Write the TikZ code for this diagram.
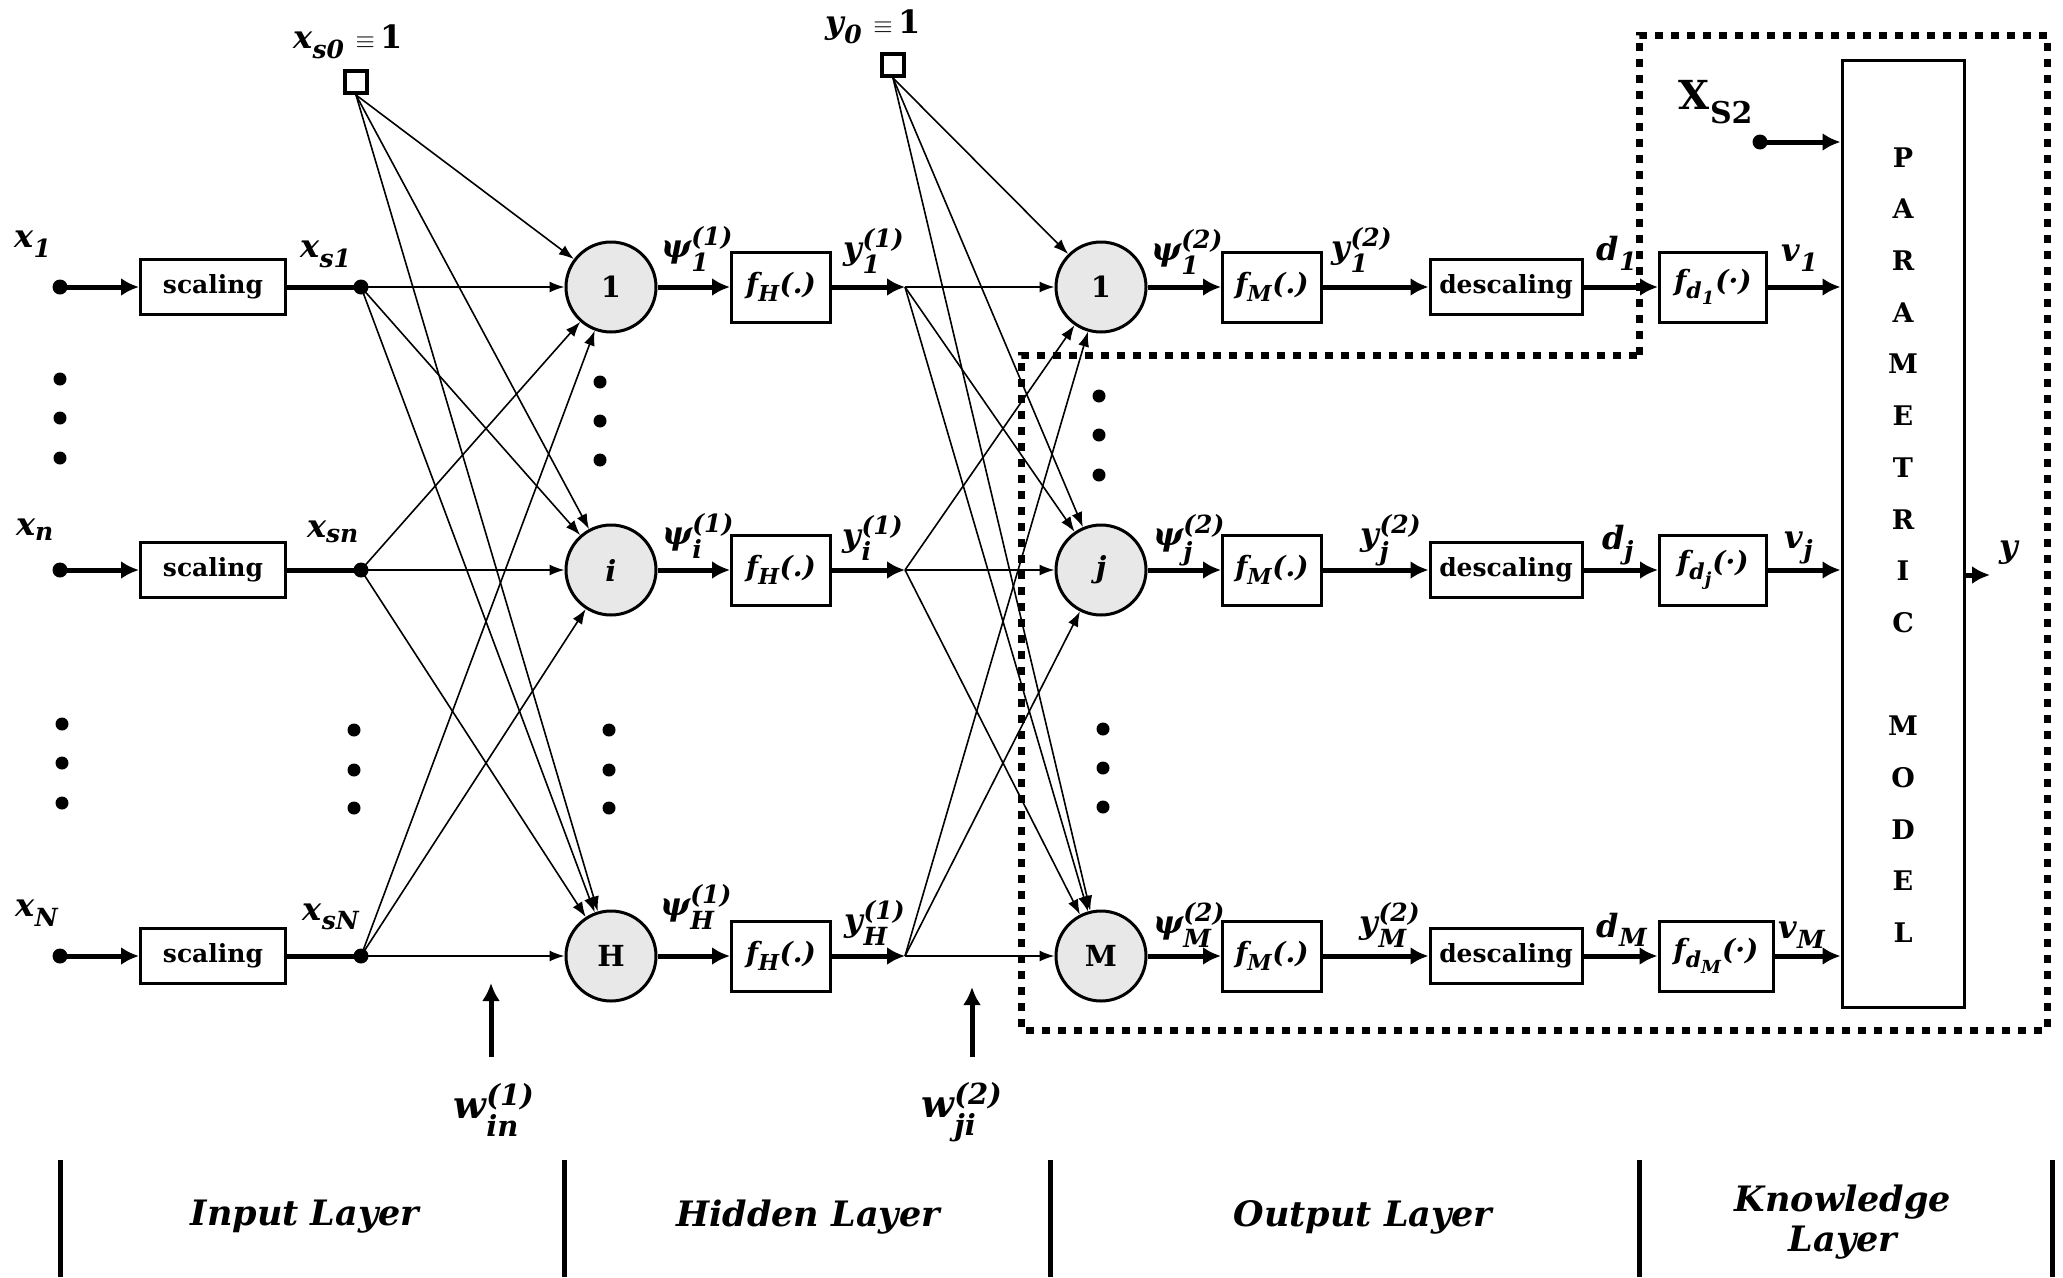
\documentclass[tikz,border=0pt]{standalone}
\usepackage{amsmath}
\usepackage{fontspec}
\setmainfont{DejaVu Serif}
\usetikzlibrary{arrows.meta}
\DeclareMathSizes{32}{32}{25}{20}
\DeclareMathSizes{28}{28}{22}{18}
\DeclareMathSizes{38}{38}{29}{23}
\DeclareMathSizes{40}{40}{30}{24}
\newcommand{\Sb}[1]{$_{\text{#1}}$}
\newcommand{\SbSp}[2]{$_{\text{#1}}^{\text{#2}}$}
\tikzset{
 neuron/.style={circle, draw, line width=3pt, fill=black!9, minimum size=90pt, inner sep=0pt, font=\bfseries\fontsize{29}{32}\selectfont},
 blk/.style={rectangle, draw, line width=3pt, fill=white, inner sep=0pt, font=\bfseries\fontsize{25}{28}\selectfont},
 fblk/.style={rectangle, draw, line width=3pt, fill=white, inner sep=0pt, font=\bfseries\itshape\fontsize{28}{30}\selectfont},
 sqnode/.style={rectangle, draw, line width=4pt, minimum size=22pt, inner sep=0pt},
 dotnode/.style={circle, fill, inner sep=0pt, minimum size=15pt},
 edot/.style={circle, fill, inner sep=0pt, minimum size=13pt},
 sig/.style={line width=5pt, -{Latex[length=18pt,width=18pt]}},
 wire/.style={line width=1.6pt, -{Latex[length=15pt,width=11pt]}},
 lbl/.style={font=\bfseries\itshape\fontsize{32}{34}\selectfont, inner sep=0pt},
 biglbl/.style={font=\bfseries\itshape\fontsize{38}{40}\selectfont, inner sep=0pt},
 layer/.style={font=\bfseries\itshape\fontsize{35}{40}\selectfont, inner sep=0pt, align=center},
 sep/.style={line width=5pt},
 region/.style={line width=7pt, dash pattern=on 8pt off 8pt},
}
\begin{document}
\begin{tikzpicture}[x=1pt,y=-1pt]
\useasboundingbox (0,0) rectangle (2063,1277);

% ---------- input layer ----------
\foreach \r/\y in {1/287, n/570, N/956}{
  \node[dotnode] (x\r dot) at (60,\y) {};
  \node[blk, minimum width=145pt, minimum height=55pt] (sc\r) at (213,\y) {scaling};
  \node[dotnode] (xs\r) at (361,\y) {};
}
\node[lbl] (lx1) at (33,244) {x\Sb{1}};
\node[lbl] (lxn) at (35,530) {x\Sb{n}};
\node[lbl] (lxN) at (37,913) {x\Sb{N}};
\node[lbl] (lxs1) at (326,254) {x\Sb{s1}};
\node[lbl] (lxsn) at (333,532) {x\Sb{sn}};
\node[lbl] (lxsN) at (331,917) {x\Sb{sN}};

\node[sqnode] (s0sq) at (356,82) {};
\node[lbl] (ls0) at (348,42) {x\Sb{s0} $\equiv$\,{\upshape 1}};

% ---------- hidden layer ----------
\node[neuron] (h1) at (611,287) {1};
\node[neuron] (hi) at (611,570) {\itshape i};
\node[neuron] (hH) at (611,956) {H};
\foreach \r/\y in {1/287, i/570, H/956}{
  \node[fblk, minimum width=99pt, minimum height=70pt] (fh\r) at (781,\y) {f\Sb{H}(.)};
  \coordinate (fan\r) at (905,\y);
}
\node[lbl] (lpsi1) at (697,249) {ψ\SbSp{1}{(1)}};
\node[lbl] (lpsii) at (698,536) {ψ\SbSp{i}{(1)}};
\node[lbl] (lpsiH) at (696,907) {ψ\SbSp{H}{(1)}};
\node[lbl] (ly1) at (874,251) {y\SbSp{1}{(1)}};
\node[lbl] (lyi) at (873,538) {y\SbSp{i}{(1)}};
\node[lbl] (lyH) at (875,923) {y\SbSp{H}{(1)}};

\node[sqnode] (y0sq) at (893,65) {};
\node[lbl] (ly0) at (873,27) {y\Sb{0} $\equiv$\,{\upshape 1}};

% ---------- output layer ----------
\node[neuron] (o1) at (1101,287) {1};
\node[neuron] (oj) at (1101,570) {\itshape j};
\node[neuron] (oM) at (1101,956) {M};
\foreach \r/\y in {1/287, j/570, M/956}{
  \node[fblk, minimum width=99pt, minimum height=70pt] (fm\r) at (1272,\y) {f\Sb{M}(.)};
  \node[blk, minimum width=152pt, minimum height=55pt] (ds\r) at (1506,\y) {descaling};
}
\node[fblk, minimum width=107pt, minimum height=70pt] (fd1) at (1713,287) {f$_{\text{d}_{\text{1}}}$(·)};
\node[fblk, minimum width=107pt, minimum height=70pt] (fdj) at (1713,570) {f$_{\text{d}_{\text{j}}}$(·)};
\node[fblk, minimum width=114pt, minimum height=70pt] (fdM) at (1716,956) {f$_{\text{d}_{\text{M}}}$(·)};

\node[lbl] (lpso1) at (1187,252) {ψ\SbSp{1}{(2)}};
\node[lbl] (lpsoj) at (1189,540) {ψ\SbSp{j}{(2)}};
\node[lbl] (lpsoM) at (1189,925) {ψ\SbSp{M}{(2)}};
\node[lbl] (lyo1) at (1362,250) {y\SbSp{1}{(2)}};
\node[lbl] (lyoj) at (1391,540) {y\SbSp{j}{(2)}};
\node[lbl] (lyoM) at (1390,925) {y\SbSp{M}{(2)}};
\node[lbl] (ld1) at (1617,253) {d\Sb{1}};
\node[lbl] (ldj) at (1618,545) {d\Sb{j}};
\node[lbl] (ldM) at (1622,930) {d\Sb{M}};
\node[lbl] (lv1) at (1800,258) {v\Sb{1}};
\node[lbl] (lvj) at (1799,548) {v\Sb{j}};
\node[lbl] (lvM) at (1802,935) {v\Sb{M}};

% ---------- knowledge layer ----------
\node[draw, line width=3pt, minimum width=122pt, minimum height=947pt, inner sep=0pt] (pm) at (1903,533.5) {};
\node[font=\bfseries\fontsize{27}{51.7}\selectfont, align=center, inner sep=0pt] (pmtext) at (1903,545)
  {P\\A\\R\\A\\M\\E\\T\\R\\I\\C\\[51.7pt]M\\O\\D\\E\\L};
\node[font=\bfseries\fontsize{40}{42}\selectfont, inner sep=0pt] (lxs2) at (1716,102) {X\Sb{S2}};
\node[dotnode] (xs2dot) at (1760,142) {};
\coordinate (yend) at (1990,575);
\node[lbl] (ly) at (2009,553) {y};

% ---------- dots ----------
\foreach \x/\y in {60/379,60/418,60/458,62/724,62/763,62/803,
                   354/730,354/770,354/808,
                   600/382,600/421,600/460,609/730,609/770,609/808,
                   1099/396,1099/435,1099/475,1103/729,1103/768,1103/807}
  \node[edot] at (\x,\y) {};

% ---------- wires ----------
\foreach \s in {s0sq.south, xs1.center, xsn.center, xsN.center}
  \foreach \t in {h1,hi,hH}
    \draw[wire] (\s) -- (\t);
\foreach \s in {y0sq.south, fan1, fani, fanH}
  \foreach \t in {o1,oj,oM}
    \draw[wire] (\s) -- (\t);

% ---------- signal chains ----------
\foreach \r in {1,n,N}{
  \draw[sig] (x\r dot.center) -- (sc\r);
  \draw[line width=5pt] (sc\r) -- (xs\r.center);
}
\foreach \r in {1,i,H}{
  \draw[sig] (h\r) -- (fh\r);
  \draw[sig] (fh\r) -- (fan\r);
}
\foreach \r in {1,j,M}{
  \draw[sig] (o\r) -- (fm\r);
  \draw[sig] (fm\r) -- (ds\r);
  \draw[sig] (ds\r) -- (fd\r);
  \draw[sig] (fd\r) -- (fd\r -| pm.west);
}
\draw[sig] (xs2dot.center) -- (xs2dot -| pm.west);
\draw[sig] (yend -| pm.east) -- (yend);

% ---------- weights ----------
\coordinate (w1a) at (491,1057); \coordinate (w1b) at (491,983);
\coordinate (w2a) at (972,1057); \coordinate (w2b) at (972,987);
\draw[sig] (w1a) -- (w1b);
\draw[sig] (w2a) -- (w2b);
\node[biglbl] (lw1) at (494,1110) {w\SbSp{in}{(1)}};
\node[biglbl] (lw2) at (962,1112) {w\SbSp{ji}{(2)}};

% ---------- dotted region ----------
\draw[region] (1639,355) -- (1639,35) -- (2047,35) -- (2047,1030) -- (1021,1030) -- (1021,355) -- cycle;

% ---------- layer separators ----------
\foreach \x in {60,564,1050,1639,2052}
  \draw[sep] (\x,1160) -- (\x,1277);
\node[layer] (lin) at (305,1217) {Input Layer};
\node[layer] (lhid) at (808,1217) {Hidden Layer};
\node[layer] (lout) at (1363,1217) {Output Layer};
\node[layer] (lkn) at (1843,1222) {Knowledge\\Layer};
\end{tikzpicture}
\end{document}
